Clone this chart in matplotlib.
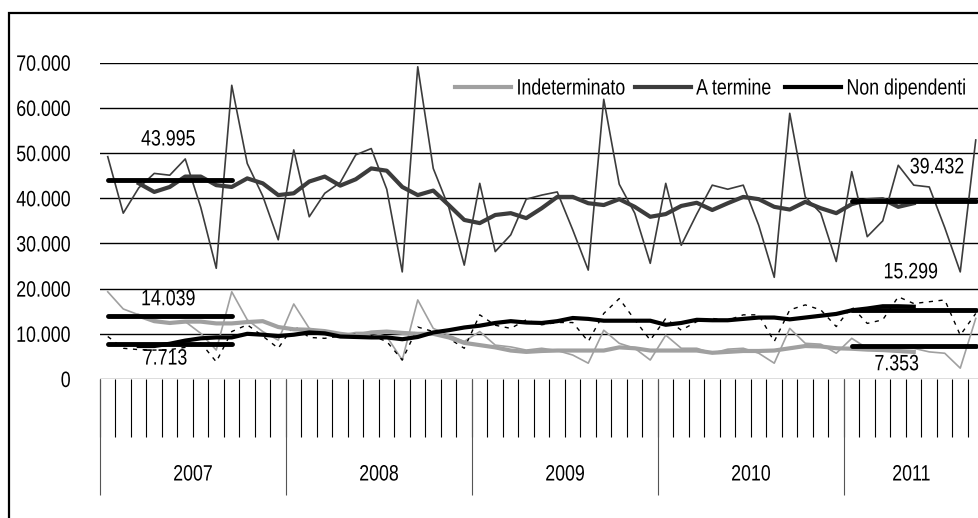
import numpy as np
import matplotlib
matplotlib.use("Agg")
import matplotlib.pyplot as plt
from matplotlib.patches import Rectangle
from matplotlib.lines import Line2D
from matplotlib.ticker import FuncFormatter
from matplotlib.patheffects import AbstractPathEffect
from matplotlib.transforms import Affine2D
import matplotlib.transforms as mtransforms

plt.rcParams['font.family'] = ['Liberation Sans', 'DejaVu Sans']

# monthly data, Jan 2007 - Sep 2011 (thousands)
years = ["2007", "2008", "2009", "2010", "2011"]
months_per_year = [12, 12, 12, 12, 9]

indeterminato = [19.3, 15.5, 14.2, 13.1, 12.3, 12.7, 10.1, 6.4, 19.3, 13.1, 10.5, 8.6,
                 16.6, 11.2, 10.2, 9.7, 10.3, 10.3, 9.4, 4.2, 17.5, 11.2, 9.7, 8.3,
                 10.5, 7.5, 7.1, 6.4, 6.8, 6.3, 5.3, 3.5, 10.8, 7.9, 6.8, 4.2,
                 9.7, 6.8, 6.8, 5.7, 6.6, 6.8, 5.7, 3.5, 11.2, 7.9, 7.7, 5.7,
                 9.0, 6.8, 6.6, 6.8, 6.8, 6.0, 5.7, 2.4, 13.4]
a_termine = [49.2, 36.7, 42.3, 45.5, 45.1, 48.7, 38.0, 24.5, 65.0, 47.7, 40.5, 30.8,
             50.7, 35.9, 41.1, 43.5, 49.6, 51.0, 42.0, 23.7, 69.1, 46.6, 38.0, 25.2,
             43.3, 28.2, 31.9, 39.8, 40.7, 41.4, 33.0, 24.1, 61.9, 43.1, 36.7, 25.6,
             43.3, 29.6, 36.5, 42.9, 42.0, 42.9, 34.0, 22.5, 58.8, 40.3, 36.7, 26.0,
             45.9, 31.5, 35.0, 47.3, 42.9, 42.5, 33.5, 23.7, 52.9]
non_dipendenti = [9.4, 6.8, 6.5, 6.4, 6.5, 7.0, 8.0, 3.8, 10.5, 12.0, 9.5, 6.8,
                  11.8, 9.2, 9.0, 9.5, 10.0, 9.6, 8.3, 4.2, 11.5, 10.5, 9.0, 6.8,
                  14.2, 11.9, 11.2, 13.1, 12.0, 12.5, 12.5, 8.3, 14.5, 17.8, 13.1, 8.6,
                  13.4, 10.8, 12.7, 13.4, 13.0, 14.2, 14.2, 8.3, 15.3, 16.4, 15.3, 11.6,
                  16.0, 12.3, 13.1, 18.2, 16.7, 17.1, 17.5, 9.7, 14.5]

# trend series (Mar 2007 - May 2011)
indeterminato_trend = [None, None,
                       14.0, 12.8, 12.4, 12.7, 12.7, 12.3, 12.3, 12.6, 12.8, 11.5,
                       11.0, 10.9, 10.6, 10.0, 9.6, 10.3, 10.5, 10.2, 10.0, 10.0, 9.2, 8.0,
                       7.5, 7.0, 6.3, 6.0, 6.2, 6.3, 6.3, 6.3, 6.3, 7.0, 6.8, 6.3,
                       6.3, 6.3, 6.3, 5.8, 6.0, 6.2, 6.2, 6.3, 6.8, 7.3, 7.2, 6.8,
                       6.7, 6.5, 6.4, 6.2, 6.0, None, None, None, None]
a_termine_trend = [None, None,
                   43.3, 41.4, 42.5, 44.8, 44.8, 42.9, 42.5, 44.4, 43.3, 40.7,
                   41.1, 43.7, 44.8, 42.8, 44.2, 46.6, 46.1, 42.5, 40.7, 41.7, 38.5, 35.2,
                   34.5, 36.3, 36.7, 35.6, 37.8, 40.3, 40.3, 38.9, 38.5, 39.8, 38.1, 35.9,
                   36.5, 38.3, 39.0, 37.4, 38.9, 40.3, 39.8, 38.1, 37.5, 39.2, 37.8, 36.7,
                   38.7, 39.6, 39.8, 38.1, 38.9, None, None, None, None]
non_dipendenti_trend = [None, None,
                        7.3, 7.3, 7.8, 8.5, 9.0, 9.2, 9.2, 10.0, 9.8, 9.5,
                        9.8, 10.3, 10.1, 9.4, 9.3, 9.2, 9.2, 8.8, 9.3, 10.3, 10.8, 11.4,
                        11.8, 12.4, 12.8, 12.5, 12.4, 12.8, 13.5, 13.3, 12.9, 12.9, 12.9, 12.9,
                        12.0, 12.4, 13.1, 13.0, 13.0, 13.3, 13.6, 13.6, 13.2, 13.6, 14.0, 14.4,
                        15.2, 15.6, 16.1, 16.1, 16.0, None, None, None, None]

# averages Jan-Sep 2007 and Jan-Sep 2011
avg_2007 = {"Indeterminato": 14039, "A termine": 43995, "Non dipendenti": 7713}
avg_2011 = {"Indeterminato": 7353, "A termine": 39432, "Non dipendenti": 15299}


class Narrow(AbstractPathEffect):
    # squeeze text horizontally to mimic a condensed face
    def __init__(self, sx=0.8, anchor="center"):
        super().__init__()
        self.sx = sx
        self.anchor = anchor

    def draw_path(self, renderer, gc, tpath, affine, rgbFace=None):
        ext = tpath.get_extents()
        cx = {"left": ext.x0, "right": ext.x1}.get(self.anchor, (ext.x0 + ext.x1) / 2)
        squeeze = Affine2D().translate(-cx, 0).scale(self.sx, 1).translate(cx, 0)
        renderer.draw_path(gc, tpath, squeeze + affine, rgbFace)


def to_arr(vals):
    return np.array([np.nan if v is None else v for v in vals], dtype=float)


def it_fmt(v):
    return f"{v:,.0f}".replace(",", ".")


FS = 16
SX = 0.8
n = sum(months_per_year)
x = np.arange(n) + 0.5

W, H = 979, 518
fig = plt.figure(figsize=(W / 100, H / 100), dpi=100)
ax = fig.add_axes([100 / W, (H - 379) / H, 883.5 / W, (379 - 62.7) / H])

# figure frame (cropped on right/bottom)
fig.patches.append(Rectangle((9 / W, -0.1), 2.0, (H - 13) / H + 0.1, transform=fig.transFigure,
                             fill=False, edgecolor="black", linewidth=1.6))

c_ind, c_ter, c_non = "#a0a0a0", "#3c3c3c", "#000000"

ax.plot(x, indeterminato, color=c_ind, lw=1.2)
ax.plot(x, a_termine, color=c_ter, lw=1.2)
ax.plot(x, non_dipendenti, color=c_non, lw=1.0, linestyle=(0, (3, 4)))

ax.plot(x, to_arr(indeterminato_trend), color=c_ind, lw=3.0, solid_joinstyle="round")
ax.plot(x, to_arr(a_termine_trend), color=c_ter, lw=3.0, solid_joinstyle="round")
ax.plot(x, to_arr(non_dipendenti_trend), color=c_non, lw=3.0, solid_joinstyle="round")

# average bars over the first 9 months of 2007 and of 2011
first9 = x[:9]
last9 = x[-9:]
label_off_2007 = {"Indeterminato": (4.4, 3.5), "A termine": (4.4, 8.9), "Non dipendenti": (4.2, -3.3)}
label_off_2011 = {"Indeterminato": (51.4, -4.2), "A termine": (54.0, 7.3), "Non dipendenti": (52.3, 8.2)}
for key, v in avg_2007.items():
    ax.plot(first9, np.full(9, v / 1000), color="black", lw=3.5, solid_capstyle="round")
    lx, dy = label_off_2007[key]
    ax.text(lx, v / 1000 + dy, it_fmt(v), ha="center", va="center", fontsize=FS,
            path_effects=[Narrow(SX)])
for key, v in avg_2011.items():
    ax.plot(last9, np.full(9, v / 1000), color="black", lw=3.5, solid_capstyle="round")
    lx, dy = label_off_2011[key]
    ax.text(lx, v / 1000 + dy, it_fmt(v), ha="center", va="center", fontsize=FS,
            path_effects=[Narrow(SX)])

ax.set_xlim(0, n)
ax.set_ylim(0, 70)
ax.set_yticks(np.arange(0, 71, 10))
ax.yaxis.set_major_formatter(FuncFormatter(lambda v, p: it_fmt(v * 1000)))
ax.tick_params(axis="y", length=0, pad=21, labelsize=FS)
ax.set_xticks([])
for s in ax.spines.values():
    s.set_visible(False)
for yv in range(10, 71, 10):
    ax.axhline(yv, color="black", lw=1.0, zorder=0)
ax.axhline(0, color="#555555", lw=1.0, zorder=0)

# category axis: month ticks and year separators
trans = mtransforms.blended_transform_factory(ax.transData, ax.transAxes)
px = 1 / (379 - 62.7)
ax.vlines(np.arange(n + 1), -58 * px, 0, transform=trans, color="black", lw=0.8, clip_on=False)
bounds = np.concatenate([[0], np.cumsum(months_per_year)])
ax.vlines(bounds, -116 * px, 0, transform=trans, color="#555555", lw=0.8, clip_on=False)
for i, yr in enumerate(years):
    ax.text((bounds[i] + min(bounds[i + 1], (979 - 100) / 15.5)) / 2, -96 * px, yr,
            transform=trans, ha="center", va="center", fontsize=FS, path_effects=[Narrow(SX)])

# legend: one entry per box so the narrow text keeps the right spacing
legend_items = [("Indeterminato", c_ind, 455), ("A termine", c_ter, 635), ("Non dipendenti", c_non, 785)]
for name, c, lx in legend_items:
    leg = fig.legend([Line2D([], [], color=c, lw=3.0)], [name], loc="center left",
                     bbox_to_anchor=(lx / W, (H - 89) / H), frameon=False, fontsize=FS,
                     handlelength=2.5, handletextpad=0.25, borderpad=0, borderaxespad=0)
    for t in leg.get_texts():
        t.set_path_effects([Narrow(SX, "left")])

fig.canvas.draw()
for t in ax.yaxis.get_major_ticks():
    t.label1.set_path_effects([Narrow(SX, "right")])

fig.savefig("out.png", dpi=100)
